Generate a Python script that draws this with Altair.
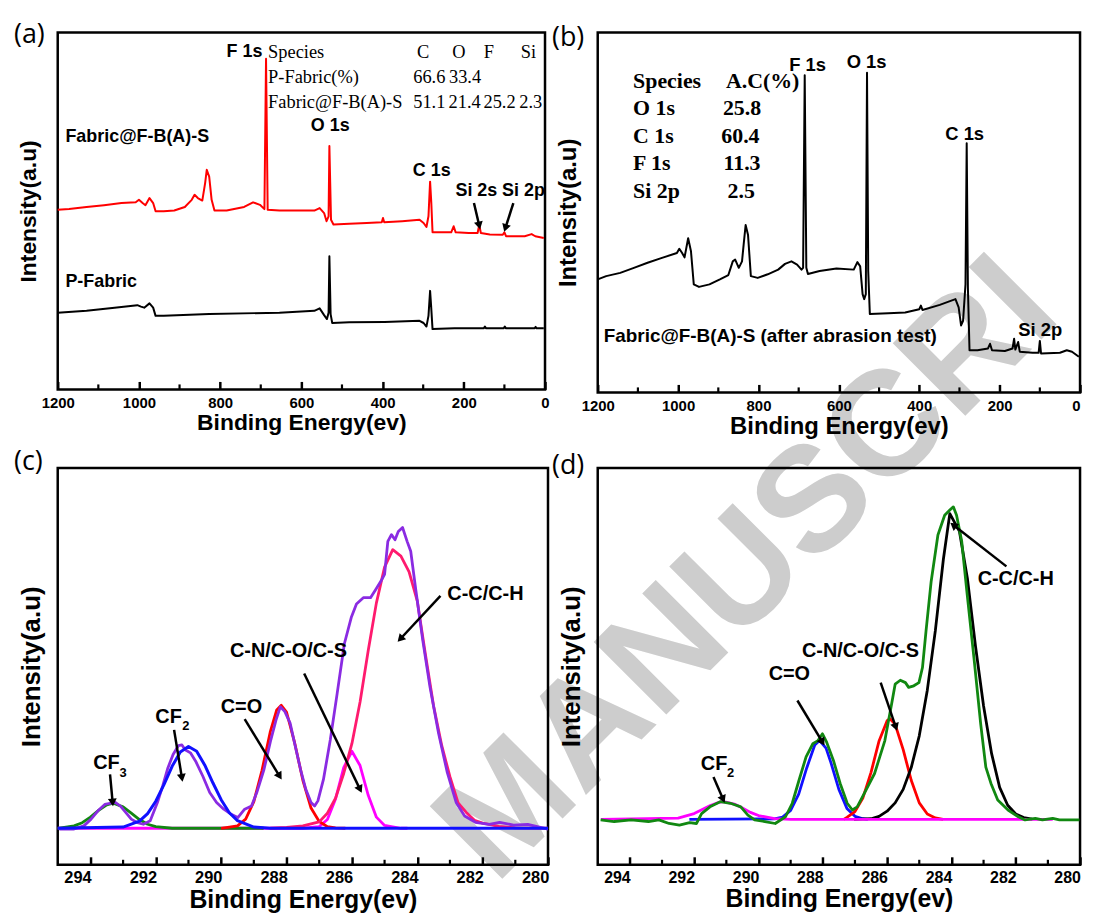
import math
import altair as alt
import pandas as pd

SANS = "Liberation Sans"
SERIF = "Liberation Serif"
TAG_FONT = "Open Sans"

# ---------------- panel (a): survey spectra ----------------
a_red_ev = [1200, 1172, 1129, 1086, 1043, 1008, 1000, 991, 984, 974, 965, 959, 939, 913, 887, 870, 863, 855, 844, 837,
            833, 827, 821, 814, 784, 741, 719, 702, 691, 687, 683, 654, 611, 568, 555, 544, 538, 533, 531, 527,
            521, 482, 439, 402, 399, 396, 352, 309, 299, 292, 287, 283, 280, 277, 257, 231, 225, 220, 188, 166,
            162, 158, 136, 104, 100, 96, 50, 33, 24, 3]
a_red_int = [50.3, 50.5, 51.1, 51.6, 52.2, 52.4, 53.1, 52.2, 51.6, 53.6, 52.2, 49.9, 49.9, 50.1, 51.1, 53.1, 54.5, 53.6, 52.9, 57.8,
             61.5, 59.6, 53.1, 50.1, 50.1, 51.1, 52.4, 51.7, 50.5, 92.6, 50.3, 50.1, 50.1, 50.1, 50.8, 49.4, 47.1, 48.5, 68.2, 47.5,
             46.2, 46.4, 46.6, 46.8, 48.0, 46.8, 47.1, 47.5, 46.6, 45.5, 48.5, 58.2, 52.2, 44.0, 44.0, 44.0, 45.7, 44.0, 43.8, 43.8,
             46.1, 43.8, 43.4, 43.3, 44.0, 42.9, 42.9, 43.5, 42.9, 42.4]
a_blk_ev = [1200, 1129, 1060, 1004, 995, 987, 974, 965, 959, 939, 827, 654, 568, 555, 544, 537, 533, 531, 528, 524,
            482, 395, 309, 299, 292, 287, 283, 280, 277, 223, 151, 148, 145, 102, 99, 96, 26, 23, 21, 3]
a_blk_int = [21.5, 22.0, 22.9, 23.6, 23.2, 22.9, 24.1, 22.9, 20.6, 20.6, 21.1, 21.5, 22.0, 22.7, 20.8, 19.7, 21.5, 37.3, 21.1, 18.6,
             18.8, 18.9, 19.2, 18.6, 17.6, 20.6, 27.6, 22.5, 16.9, 17.1, 17.1, 17.6, 17.1, 17.1, 17.6, 17.1, 17.1, 17.5, 17.1, 17.1]

a_peak_txt = ["F 1s", "O 1s", "C 1s", "Si 2s", "Si 2p"]
a_peak_ev = [740, 529, 279, 169, 53]
a_peak_int = [94.4, 73.7, 61.3, 55.7, 55.7]
a_name_txt = ["Fabric@F-B(A)-S", "P-Fabric"]
a_name_ev = [1181, 1181]
a_name_int = [70.8, 30.1]
a_tab_left_txt = ["Species", "P-Fabric(%)", "Fabric@F-B(A)-S"]
a_tab_left_ev = [682, 682, 682]
a_tab_left_int = [94.4, 87.5, 80.5]
a_tab_txt = ["C", "O", "F", "Si", "66.6", "33.4", "51.1", "21.4", "25.2", "2.3"]
a_tab_ev = [300, 212, 138, 41, 285, 197, 285, 198, 112, 35]
a_tab_int = [94.4, 94.4, 94.4, 94.4, 87.5, 87.5, 80.5, 80.5, 80.5, 80.5]
a_arr_x1 = [175, 78]
a_arr_y1 = [52.2, 52.2]
a_arr_x2 = [162, 97.6]
a_arr_y2 = [45.9, 45.2]

# ---------------- panel (b): survey after abrasion ----------------
b_ev = [1200, 1179, 1144, 1110, 1076, 1042, 1003, 997, 990, 984, 975, 968, 961, 948, 922, 896, 875, 864, 858, 849,
        841, 837, 832, 826, 819, 802, 777, 751, 734, 718, 704, 693, 689, 685, 681, 677, 648, 606, 563, 554,
        547, 541, 537, 533, 530, 527, 523, 477, 435, 400, 396, 392, 349, 310, 302, 296, 291, 285, 282, 279,
        275, 255, 229, 224, 219, 187, 168, 164, 161, 154, 150, 118, 103, 100, 97, 50, 33, 20, 3]
b_int = [31.4, 32.3, 33.2, 34.6, 36.0, 37.3, 38.7, 39.9, 38.7, 37.5, 42.8, 39.2, 30.0, 29.3, 30.0, 31.4, 32.6, 36.4, 36.9, 34.6,
         36.4, 41.0, 46.5, 43.7, 32.3, 31.8, 32.8, 34.1, 35.7, 36.4, 35.5, 34.1, 34.6, 88.1, 34.6, 32.9, 33.7, 34.4, 34.1, 36.2,
         35.0, 27.3, 25.9, 27.3, 88.8, 33.7, 21.8, 22.0, 22.2, 23.1, 24.1, 22.9, 24.3, 25.9, 23.6, 18.6, 19.9, 30.0, 69.2, 29.1,
         11.7, 11.7, 12.2, 13.5, 11.7, 11.5, 12.2, 14.9, 11.9, 14.0, 11.3, 11.0, 11.0, 14.3, 10.8, 11.0, 11.7, 11.3, 9.9]
b_peak_txt = ["F 1s", "O 1s", "C 1s", "Si 2p"]
b_peak_ev = [678, 531, 287, 99]
b_peak_int = [90.9, 91.8, 71.9, 17.4]
b_name_txt = ["Fabric@F-B(A)-S (after abrasion test)"]
b_name_ev = [1185]
b_name_int = [15.6]
b_tab_left_txt = ["Species", "A.C(%)", "O 1s", "C 1s", "F 1s", "Si 2p"]
b_tab_left_ev = [1112, 881, 1112, 1112, 1112, 1112]
b_tab_left_int = [86.6, 86.6, 79.0, 71.2, 63.7, 55.8]
b_tab_txt = ["25.8", "60.4", "11.3", "2.5"]
b_tab_ev = [841, 845, 841, 843]
b_tab_int = [79.0, 71.2, 63.7, 55.8]

# ---------------- panel (c): C 1s, Fabric@F-B(A)-S ----------------
c_raw_ev = [294.95, 294.52, 294.20, 293.98, 293.77, 293.56, 293.40, 293.24, 293.08, 292.92,
            292.75, 292.59, 292.38, 292.17, 291.95, 291.79, 291.63, 291.47, 291.31, 291.20,
            291.10, 290.94, 290.78, 290.56, 290.35, 290.14, 289.92, 289.71, 289.49, 289.28,
            289.07, 288.91, 288.69, 288.48, 288.32, 288.19, 288.05, 287.89, 287.73, 287.57,
            287.41, 287.25, 287.14, 287.04, 286.87, 286.66, 286.45, 286.23, 286.02, 285.86,
            285.65, 285.43, 285.27, 285.11, 285.00, 284.90, 284.79, 284.68, 284.58, 284.45,
            284.31, 284.20, 284.04, 283.83, 283.61, 283.35, 283.08, 282.81, 282.55, 282.22,
            281.80, 281.48, 281.05, 280.62, 280.00]
c_raw_int = [9.0, 9.0, 9.8, 11.5, 13.6, 15.2, 15.5, 15.7, 14.8, 13.2,
             11.5, 10.7, 10.2, 11.1, 15.7, 19.8, 24.4, 27.8, 30.0, 30.2,
             29.0, 28.2, 26.1, 22.3, 18.2, 15.7, 14.0, 12.8, 11.9, 14.0,
             14.8, 18.2, 24.0, 31.5, 36.5, 39.8, 38.6, 35.7, 29.8, 24.0,
             19.0, 15.7, 14.8, 16.1, 21.5, 31.5, 43.2, 55.7, 62.3, 65.7,
             67.3, 67.3, 69.4, 71.5, 73.2, 81.5, 83.2, 81.9, 84.0, 85.0,
             81.5, 79.0, 69.0, 56.5, 44.8, 33.2, 23.2, 15.7, 12.3, 10.7,
             10.2, 10.7, 10.0, 10.2, 9.0]
c_cf3_ev = [295.0, 294.5, 294.25, 294.0, 293.75, 293.5, 293.3, 293.0, 292.75, 292.5, 292.25, 292.0, 291.5, 288.7]
c_cf3_int = [9.2, 9.8, 10.6, 12.0, 13.7, 15.1, 15.5, 14.6, 13.0, 11.4, 10.2, 9.6, 9.2, 9.2]
c_cf2_ev = [295.0, 293.0, 292.5, 292.25, 292.0, 291.75, 291.5, 291.25, 291.0, 290.75, 290.5, 290.25, 290.0, 289.75, 289.5, 289.0, 288.5, 280.0]
c_cf2_int = [9.2, 9.5, 11.0, 12.9, 16.0, 20.2, 24.8, 28.4, 29.8, 28.6, 25.1, 20.6, 16.4, 13.1, 11.1, 9.5, 9.2, 9.2]
c_co_ev = [290.0, 289.5, 289.25, 289.0, 288.75, 288.5, 288.3, 288.16, 288.0, 287.75, 287.5, 287.25, 287.0, 286.75, 286.5, 286.2]
c_co_int = [9.2, 9.8, 11.5, 15.9, 23.8, 33.4, 39.0, 40.2, 38.5, 30.7, 21.3, 14.3, 10.9, 9.6, 9.3, 9.2]
c_cn_ev = [295.0, 287.5, 287.0, 286.75, 286.5, 286.25, 286.0, 285.75, 285.5, 285.25, 285.0, 284.5, 284.3]
c_cn_int = [9.2, 9.2, 9.6, 11.4, 16.6, 24.5, 28.6, 25.0, 17.5, 12.0, 9.9, 9.2, 9.2]
c_cc_ev = [288.5, 288.0, 287.5, 287.0, 286.75, 286.5, 286.25, 286.0, 285.75, 285.5, 285.25, 285.0, 284.75, 284.5,
           284.25, 284.0, 283.75, 283.5, 283.25, 283.0, 282.75, 282.5, 282.25, 282.0, 281.5, 281.0, 280.0]
c_cc_int = [9.2, 9.4, 9.8, 10.8, 13.0, 16.8, 23.0, 30.5, 41.0, 54.0, 66.0, 75.0, 79.4, 77.8,
            73.8, 66.5, 53.0, 40.0, 30.0, 22.2, 15.6, 13.2, 11.2, 10.5, 9.7, 9.3, 9.2]
c_lab_txt = ["CF", "CF", "C=O", "C-N/C-O/C-S"]
c_lab_ev = [293.51, 291.61, 289.38, 287.94]
c_lab_int = [25.7, 37.3, 39.8, 53.8]
c_sub_txt = ["3", "2"]
c_sub_ev = [293.0, 291.08]
c_sub_int = [23.2, 35.0]
c_left_txt = ["C-C/C-H"]
c_left_ev = [283.08]
c_left_int = [68.3]
c_arr_x1 = [293.40, 291.44, 289.28, 287.46, 283.29]
c_arr_y1 = [22.75, 34.0, 36.7, 48.2, 67.75]
c_arr_x2 = [293.32, 291.20, 288.21, 285.75, 284.52]
c_arr_y2 = [15.7, 21.9, 22.3, 19.0, 56.9]

# ---------------- panel (d): C 1s after abrasion ----------------
d_raw_ev = [294.91, 294.49, 293.96, 293.42, 293.10, 292.78, 292.46, 292.14, 291.93, 291.77,
            291.51, 291.19, 290.87, 290.55, 290.33, 290.12, 289.80, 289.48, 289.16, 288.95,
            288.74, 288.52, 288.31, 288.15, 288.01, 287.88, 287.67, 287.46, 287.24, 287.08,
            286.93, 286.71, 286.39, 286.07, 285.86, 285.75, 285.59, 285.43, 285.33, 285.17,
            285.01, 284.90, 284.79, 284.63, 284.42, 284.21, 284.05, 283.94, 283.84, 283.68,
            283.52, 283.30, 283.09, 282.93, 282.77, 282.56, 282.24, 281.92, 281.71, 281.39,
            281.17, 280.85, 280.64, 280.02]
d_raw_int = [11.3, 10.9, 11.3, 10.9, 11.3, 10.4, 10.0, 10.6, 10.4, 12.9,
             14.6, 15.9, 15.5, 14.6, 12.5, 11.3, 10.9, 10.4, 12.1, 15.5,
             21.3, 27.2, 30.5, 31.3, 33.0, 30.9, 26.3, 20.5, 15.5, 13.8,
             14.6, 18.0, 23.0, 31.3, 40.5, 45.5, 46.5, 45.9, 44.7, 45.1,
             45.9, 49.7, 58.9, 71.4, 83.1, 88.1, 89.4, 90.2, 88.1, 81.5,
             68.9, 52.2, 35.5, 24.6, 20.5, 16.3, 13.8, 12.1, 11.3, 11.7,
             11.3, 11.7, 11.3, 11.3]
d_cf2_ev = [294.9, 292.5, 292.0, 291.75, 291.5, 291.25, 291.08, 290.75, 290.5, 290.25, 290.0, 289.5, 289.0, 280.85]
d_cf2_int = [11.45, 11.75, 12.9, 13.9, 14.95, 15.7, 15.9, 15.3, 14.3, 13.2, 12.4, 11.6, 11.45, 11.45]
d_co_ev = [292.15, 289.5, 289.25, 289.0, 288.75, 288.5, 288.25, 288.1, 287.9, 287.75, 287.5, 287.25, 287.0, 286.75, 286.6]
d_co_int = [11.45, 11.55, 12.0, 13.7, 17.8, 24.4, 30.2, 31.3, 29.4, 25.8, 19.0, 14.2, 12.2, 11.6, 11.45]
d_cn_ev = [287.35, 287.25, 287.0, 286.75, 286.5, 286.25, 286.0, 285.91, 285.75, 285.5, 285.25, 285.0, 284.75, 284.5, 284.26]
d_cn_int = [11.45, 11.95, 13.4, 16.9, 23.3, 31.2, 36.3, 36.8, 35.4, 29.0, 21.3, 15.6, 12.8, 11.8, 11.45]
d_cc_ev = [287.03, 286.5, 286.25, 286.0, 285.75, 285.5, 285.25, 285.0, 284.75, 284.5, 284.25, 284.05, 283.75,
           283.5, 283.25, 283.0, 282.75, 282.5, 282.25, 282.0, 281.75, 281.49]
d_cc_int = [11.45, 11.6, 12.2, 13.5, 15.6, 19.0, 24.5, 32.5, 44.0, 59.0, 77.0, 88.5, 84.0,
            72.0, 55.0, 40.0, 28.0, 19.5, 15.0, 12.8, 11.9, 11.5]
d_lab_txt = ["CF", "C=O", "C-N/C-O/C-S", "C-C/C-H"]
d_lab_ev = [291.38, 289.04, 286.83, 282.0]
d_lab_int = [25.5, 48.0, 53.9, 72.1]
d_sub_txt = ["2"]
d_sub_ev = [290.87]
d_sub_int = [23.0]
d_arr_x1 = [291.4, 288.79, 286.2, 282.29]
d_arr_y1 = [22.1, 41.4, 45.9, 75.2]
d_arr_x2 = [291.1, 288.01, 285.73, 283.94]
d_arr_y2 = [16.5, 30.9, 34.7, 85.6]

survey_major = [0, 200, 400, 600, 800, 1000, 1200]
survey_minor = [100, 300, 500, 700, 900, 1100]
c1s_major = [280, 282, 284, 286, 288, 290, 292, 294]
c1s_minor = [281, 283, 285, 287, 289, 291, 293]

watermark = ["MANUSCRI"]


class Panel:
    def __init__(self, xdom, W, H, lab_size, title_size, lab_off, lab_pad, title_pad, ytitle_size, ytitle_pad,
                 ticks, last_right=False):
        self.xdom = xdom
        self.W = W
        self.H = H
        self.xs = alt.Scale(domain=xdom, reverse=True, nice=False, zero=False)
        self.ys = alt.Scale(domain=[0, 100], nice=False, zero=False)
        extra = {}
        if last_right:
            extra["labelAlign"] = {"condition": {"test": "datum.value <= %s" % xdom[0], "value": "right"},
                                   "value": "center"}
        self.xax = alt.Axis(title="Binding Energy(ev)", values=ticks, format="d", tickSize=8, tickWidth=2.5,
                            tickColor="black", offset=-8, domain=False, grid=False, labelFont=SANS,
                            labelFontSize=lab_size, labelFontWeight="bold", labelColor="black",
                            labelPadding=lab_pad, labelFlush=False, labelOverlap=False, labelOffset=lab_off,
                            titleFont=SANS, titleFontSize=title_size, titleFontWeight="bold",
                            titleColor="black", titlePadding=title_pad, **extra)
        self.yax = alt.Axis(title="Intensity(a.u)", ticks=False, labels=False, domain=False, grid=False,
                            titleFont=SANS, titleFontSize=ytitle_size, titleFontWeight="bold",
                            titleColor="black", titlePadding=ytitle_pad)
        self.layers = []

    def xenc(self, f):
        return alt.X(f + ":Q", scale=self.xs, axis=self.xax)

    def yenc(self, f):
        return alt.Y(f + ":Q", scale=self.ys, axis=self.yax)

    def line(self, ev, inten, color, sw):
        df = pd.DataFrame({"ev": ev, "inten": inten})
        self.layers.append(alt.Chart(df).mark_line(color=color, strokeWidth=sw, strokeJoin="round")
                           .encode(x=self.xenc("ev"), y=self.yenc("inten")))

    def text(self, txt, ev, inten, size, font=SANS, weight="bold", align="center"):
        df = pd.DataFrame({"t": txt, "ev": ev, "inten": inten})
        self.layers.append(alt.Chart(df).mark_text(font=font, fontSize=size, fontWeight=weight, align=align,
                                                   baseline="middle", color="black")
                           .encode(x=self.xenc("ev"), y=self.yenc("inten"), text="t:N"))

    def arrows(self, x1, y1, x2, y2):
        span = abs(self.xdom[1] - self.xdom[0])
        ang = []
        for a, b, c, d in zip(x1, y1, x2, y2):
            sx = -(c - a) * self.W / span
            sy = -(d - b) * self.H / 100.0
            ang.append(math.degrees(math.atan2(sx, -sy)) % 360)
        df = pd.DataFrame({"xa": x1, "ya": y1, "xb": x2, "yb": y2, "ang": ang})
        self.layers.append(alt.Chart(df).mark_rule(color="black", strokeWidth=2.5)
                           .encode(x=self.xenc("xa"), y=self.yenc("ya"), x2="xb:Q", y2="yb:Q"))
        self.layers.append(alt.Chart(df).mark_point(shape="triangle-up", filled=True, color="black",
                                                    size=80, opacity=1)
                           .encode(x=self.xenc("xb"), y=self.yenc("yb"),
                                   angle=alt.Angle("ang:Q", scale=None)))

    def minor(self, vals):
        df = pd.DataFrame({"v": vals})
        self.layers.append(alt.Chart(df).mark_rule(color="black", strokeWidth=2.2)
                           .encode(x=self.xenc("v"), y=alt.value(self.H), y2=alt.value(self.H - 5)))

    def tag(self, label, px, py, size=27):
        df = pd.DataFrame({"t": [label]})
        self.layers.append(alt.Chart(df).mark_text(font=TAG_FONT, fontSize=size, align="left",
                                                   baseline="middle", color="black")
                           .encode(text="t:N", x=alt.value(px), y=alt.value(py)))

    def stamp(self, label, px, py, size):
        df = pd.DataFrame({"t": label})
        self.layers.append(alt.Chart(df).mark_text(font=SANS, fontSize=size, fontWeight="bold", align="left",
                                                   baseline="alphabetic", angle=315, color="#cdcdcd")
                           .encode(text="t:N", x=alt.value(px), y=alt.value(py)))

    def chart(self):
        return alt.layer(*self.layers).properties(width=self.W, height=self.H)


# panel (a)
pa = Panel([0, 1200], 490, 359, 15, 23, 0, 6, 1, 23, 17, survey_major)
pa.stamp(watermark, 440, 858, 150)
pa.minor(survey_minor)
pa.line(a_blk_ev, a_blk_int, "black", 2)
pa.line(a_red_ev, a_red_int, "#ff0000", 2)
pa.text(a_peak_txt, a_peak_ev, a_peak_int, 18)
pa.text(a_name_txt, a_name_ev, a_name_int, 18, align="left")
pa.text(a_tab_left_txt, a_tab_left_ev, a_tab_left_int, 18.5, font=SERIF, weight="normal", align="left")
pa.text(a_tab_txt, a_tab_ev, a_tab_int, 18.5, font=SERIF, weight="normal")
pa.arrows(a_arr_x1, a_arr_y1, a_arr_x2, a_arr_y2)
pa.tag("(a)", -44, 3)

# panel (b)
pb = Panel([0, 1200], 485, 362, 15, 24, 0, 6, 1, 24, 17, survey_major, last_right=True)
pb.minor(survey_minor)
pb.line(b_ev, b_int, "black", 2)
pb.text(b_peak_txt, b_peak_ev, b_peak_int, 18.5)
pb.text(b_name_txt, b_name_ev, b_name_int, 19, align="left")
pb.text(b_tab_left_txt, b_tab_left_ev, b_tab_left_int, 22, font=SERIF, align="left")
pb.text(b_tab_txt, b_tab_ev, b_tab_int, 22, font=SERIF)
pb.tag("(b)", -46, 6)

# panel (c)
pc = Panel([280, 295], 493, 399, 16.5, 25, -13, 5, 1, 26, 13, c1s_major)
pc.minor(c1s_minor)
pc.line(c_cn_ev, c_cn_int, "#ff00ff", 2.8)
pc.line(c_cf3_ev, c_cf3_int, "#118811", 2.8)
pc.line(c_co_ev, c_co_int, "#ff0000", 2.8)
pc.line(c_cc_ev, c_cc_int, "#ff1a6e", 2.8)
pc.line(c_raw_ev, c_raw_int, "#8a2be2", 2.8)
pc.line(c_cf2_ev, c_cf2_int, "#1010ff", 3)
pc.text(c_lab_txt, c_lab_ev, c_lab_int, 20)
pc.text(c_sub_txt, c_sub_ev, c_sub_int, 13)
pc.text(c_left_txt, c_left_ev, c_left_int, 20, align="left")
pc.arrows(c_arr_x1, c_arr_y1, c_arr_x2, c_arr_y2)
pc.tag("(c)", -44, -6)

# panel (d)
pd_ = Panel([280, 295], 485, 399, 16, 25, -13, 5, 1, 26, 13, c1s_major)
pd_.minor(c1s_minor)
pd_.line(d_co_ev, d_co_int, "#1010ff", 2.8)
pd_.line(d_cn_ev, d_cn_int, "#ff0000", 2.8)
pd_.line(d_cc_ev, d_cc_int, "black", 2.8)
pd_.line(d_cf2_ev, d_cf2_int, "#ff00ff", 2.8)
pd_.line(d_raw_ev, d_raw_int, "#118811", 2.8)
pd_.text(d_lab_txt, d_lab_ev, d_lab_int, 20)
pd_.text(d_sub_txt, d_sub_ev, d_sub_int, 13)
pd_.arrows(d_arr_x1, d_arr_y1, d_arr_x2, d_arr_y2)
pd_.tag("(d)", -46, -2)

chart = (alt.concat(pa.chart(), pb.chart(), pc.chart(), pd_.chart(), columns=2,
                    spacing={"row": 76, "column": 50}, bounds="flush")
         .properties(padding={"left": 4, "top": 9, "right": 0, "bottom": 0}, background="white")
         .configure_view(stroke="black", strokeWidth=2.5))

chart.save("out.html", embed_options={"renderer": "svg", "actions": False})
